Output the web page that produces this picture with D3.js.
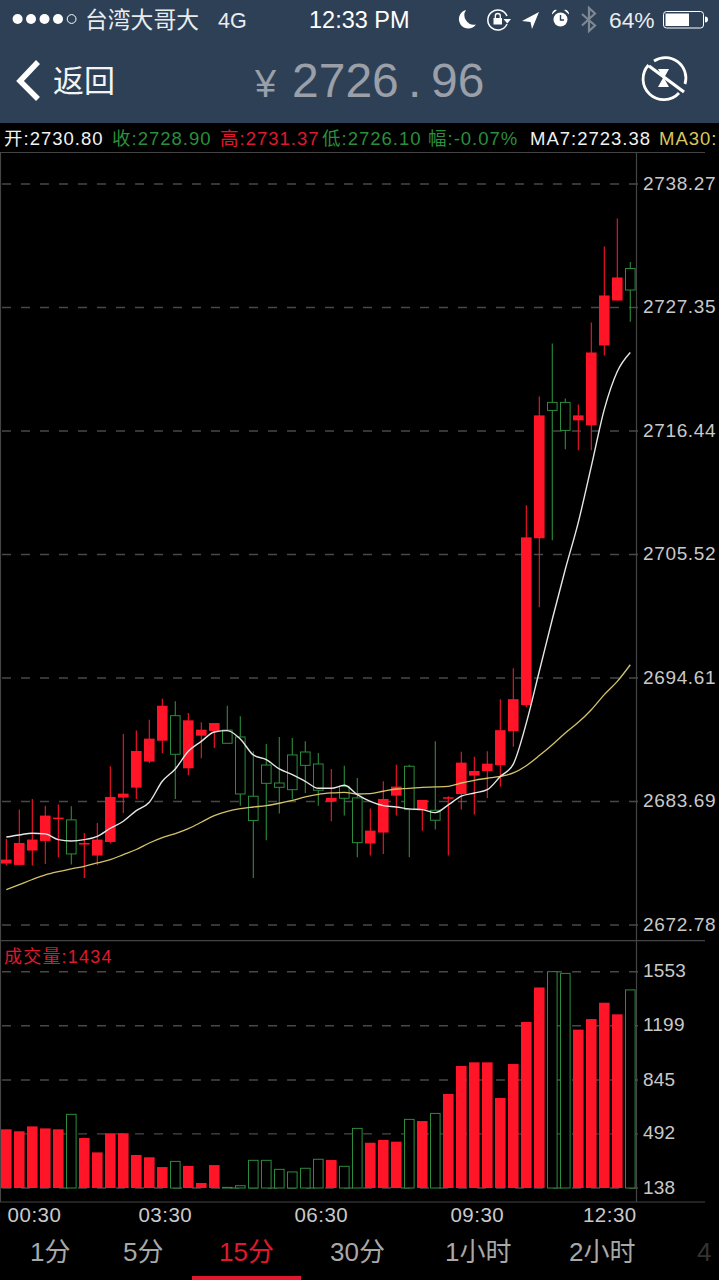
<!DOCTYPE html>
<html><head><meta charset="utf-8">
<style>html,body{margin:0;padding:0;background:#000;overflow:hidden}svg{display:block}text{font-family:"Liberation Sans","Noto Sans CJK SC",sans-serif}</style>
<script src="https://cdn.jsdelivr.net/npm/d3@7/dist/d3.min.js"></script>
</head><body><div id="c"></div>
<script>
const opens=[2678.21,2678.09,2679.36,2680.21,2682.15,2682.07,2679.89,2678.92,2680.12,2684.04,2684.92,2687.22,2689.07,2691.28,2686.63,2689.51,2689.93,2690.01,2689.40,2684.16,2686.92,2685.33,2687.81,2688.07,2687.01,2683.68,2685.04,2684.01,2679.98,2680.95,2684.21,2686.81,2682.98,2682.92,2683.95,2684.36,2685.98,2686.39,2686.91,2689.91,2692.21,2706.96,2718.97,2718.97,2717.38,2716.94,2724.00,2727.97,2730.80];
const closes=[2678.56,2680.03,2680.33,2682.45,2682.27,2679.06,2680.03,2680.33,2684.10,2684.39,2688.16,2689.25,2692.16,2687.87,2690.87,2690.04,2690.63,2688.84,2684.36,2682.01,2685.30,2684.95,2684.74,2686.89,2684.69,2684.01,2683.98,2680.06,2681.12,2683.92,2685.01,2682.98,2683.83,2682.04,2684.07,2687.13,2686.39,2687.04,2690.00,2692.74,2707.04,2717.82,2718.26,2716.49,2717.82,2723.38,2728.42,2730.01,2728.90];
const highs=[2680.39,2682.98,2683.92,2683.33,2683.42,2683.27,2680.92,2681.80,2686.81,2689.66,2689.96,2690.93,2692.78,2692.55,2691.52,2690.69,2690.63,2692.16,2691.22,2688.13,2688.78,2689.40,2689.31,2689.01,2687.98,2686.57,2686.86,2685.78,2683.07,2685.48,2686.95,2686.95,2683.83,2689.01,2684.16,2688.10,2687.66,2688.13,2692.74,2695.48,2709.87,2719.50,2724.18,2719.32,2718.79,2726.03,2732.74,2735.22,2731.37];
const lows=[2678.03,2678.09,2678.03,2678.18,2678.77,2678.12,2676.94,2678.09,2679.98,2682.68,2683.92,2687.10,2687.98,2683.92,2686.01,2687.51,2688.42,2688.84,2683.33,2676.94,2680.27,2682.63,2683.92,2684.45,2683.33,2681.95,2682.45,2678.77,2678.92,2679.06,2682.45,2678.77,2681.12,2681.21,2678.92,2682.98,2682.54,2684.01,2684.99,2688.53,2692.03,2700.86,2706.78,2714.82,2714.73,2714.73,2723.12,2727.97,2726.10];
const ma7=[2680.56,2680.74,2680.89,2680.83,2680.33,2680.21,2680.33,2680.62,2681.33,2681.95,2682.89,2683.63,2685.48,2686.57,2688.13,2689.01,2689.84,2689.96,2689.22,2687.81,2687.39,2686.57,2686.07,2685.48,2684.86,2684.86,2685.13,2684.30,2683.71,2683.33,2683.21,2683.04,2682.98,2682.71,2683.39,2684.16,2684.45,2684.74,2685.90,2687.00,2690.62,2695.21,2699.80,2704.22,2708.37,2713.31,2718.35,2721.70,2723.38];
const ma30=[2675.91,2676.35,2676.80,2677.21,2677.50,2677.74,2677.97,2678.27,2678.56,2679.00,2679.45,2680.03,2680.51,2680.86,2681.30,2681.86,2682.45,2682.83,2683.07,2683.21,2683.33,2683.54,2683.80,2684.10,2684.33,2684.45,2684.51,2684.36,2684.39,2684.60,2684.80,2684.86,2684.95,2684.98,2685.04,2685.33,2685.57,2685.75,2685.92,2686.22,2686.86,2687.75,2688.72,2689.75,2690.69,2691.81,2693.14,2694.31,2695.78];
const volumes=[522,509,541,528,522,620,465,371,496,496,354,339,275,312,282,171,288,142,153,319,319,260,243,267,326,321,280,528,434,452,441,587,576,626,753,936,960,960,727,949,1224,1450,1553,1542,1174,1243,1350,1274,1434];
const priceTicks=[2738.27,2727.35,2716.44,2705.52,2694.61,2683.69,2672.78];
const volumeTicks=[1553,1199,845,492,138];
const timeSlots=[0,12,24,36,48];
const timeLabels=["00:30","03:30","06:30","09:30","12:30"];
const periodTabs=["1分","5分","15分","30分","1小时","2小时","4"];
const activeTab="15分";

const W=719,H=1280;
const RED="#ff1428",GREEN="#2c8c3c",LABEL="#c9c9c9";
const svg=d3.select("#c").append("svg").attr("width",W).attr("height",H).attr("viewBox",`0 0 ${W} ${H}`);
svg.append("rect").attr("width",W).attr("height",H).attr("fill","#000");

const x=d3.scalePoint().domain(d3.range(closes.length)).range([6.3,630.3]);
const y=d3.scaleLinear().domain([2672.78,2738.27]).range([925,184]);
const yV=d3.scaleLinear().domain([138,1553]).range([1188,971.7]);

/* frame */
const frame=svg.append("g").attr("stroke","#444").attr("stroke-width",1.2);
[[0,152.5,705,152.5],[0,940.7,705,940.7],[0,1202,705,1202],[636.5,152.5,636.5,1202],[0.5,152.5,0.5,1202]].forEach(l=>
  frame.append("line").attr("x1",l[0]).attr("y1",l[1]).attr("x2",l[2]).attr("y2",l[3]));

/* grids */
function grid(ticks,scale){
  svg.append("g").selectAll("line").data(ticks).join("line")
    .attr("x1",2).attr("x2",641).attr("y1",d=>scale(d)).attr("y2",d=>scale(d))
    .attr("stroke","#484848").attr("stroke-width",1.4).attr("stroke-dasharray","9 10");
}
grid(priceTicks,y);grid(volumeTicks,yV);

/* axes */
function styleAxis(g,size,sp){
  g.select(".domain").remove();g.selectAll(".tick line").remove();
  g.selectAll("text").attr("fill",LABEL).attr("font-size",size).attr("letter-spacing",sp+"px");
}
svg.append("g").attr("transform","translate(643,-0.8)")
  .call(d3.axisRight(y).tickValues(priceTicks).tickFormat(d3.format(".2f")).tickSize(0).tickPadding(0))
  .call(g=>styleAxis(g,19,0.65));
svg.append("g").attr("transform","translate(643,-1)")
  .call(d3.axisRight(yV).tickValues(volumeTicks).tickFormat(d3.format("d")).tickSize(0).tickPadding(0))
  .call(g=>styleAxis(g,19,0.2));
const xAxis=svg.append("g").attr("transform","translate(0,1205)")
  .call(d3.axisBottom(x).tickValues(timeSlots).tickFormat((d,i)=>timeLabels[i]).tickSize(0).tickPadding(0))
  .call(g=>styleAxis(g,20.5,0.5));
xAxis.selectAll("text").attr("dy","0.85em").attr("dx",(d,i)=>i===0?"27.7":i===4?"-21":"2.5");

/* candles */
const up=i=>closes[i]>=opens[i];
const cols=i=>up(i)?RED:GREEN;
const idx=d3.range(closes.length);
const BW=10.6;
const cg=svg.append("g");
cg.selectAll("line").data(idx).join("line")
  .attr("x1",i=>x(i)).attr("x2",i=>x(i)).attr("y1",i=>y(highs[i])).attr("y2",i=>y(lows[i]))
  .attr("stroke",cols).attr("stroke-width",1.1);
cg.selectAll("rect").data(idx).join("rect")
  .attr("x",i=>x(i)-(up(i)?BW/2:BW/2-0.5))
  .attr("width",i=>up(i)?BW:BW-1)
  .attr("y",i=>y(Math.max(opens[i],closes[i])))
  .attr("height",i=>Math.max(1.5,Math.abs(y(opens[i])-y(closes[i]))))
  .attr("fill",i=>up(i)?RED:"#000").attr("stroke",i=>up(i)?"none":GREEN).attr("stroke-width",1);

/* moving averages */
const line=d3.line().x((d,i)=>x(i)).y(d=>y(d)).curve(d3.curveMonotoneX);
svg.append("path").datum(ma30).attr("d",line).attr("fill","none").attr("stroke","#d2c36a").attr("stroke-width",1.3);
svg.append("path").datum(ma7).attr("d",line).attr("fill","none").attr("stroke","#e6e6e6").attr("stroke-width",1.4);

/* volume */
svg.append("g").selectAll("rect").data(idx).join("rect")
  .attr("x",i=>x(i)-(up(i)?BW/2:BW/2-0.5))
  .attr("width",i=>up(i)?BW:BW-1)
  .attr("y",i=>yV(volumes[i])).attr("height",i=>yV(138)-yV(volumes[i]))
  .attr("fill",i=>up(i)?RED:"#000").attr("stroke",i=>up(i)?"none":GREEN).attr("stroke-width",1);
svg.append("text").attr("x",4).attr("y",963).attr("font-size",18).attr("letter-spacing","1.2px").attr("fill","#e0182d").text("成交量:"+volumes[volumes.length-1]);

/* header */
svg.append("rect").attr("width",W).attr("height",123).attr("fill","#2e4055");
const hdr=svg.append("g");
[17.6,31,44.5,58].forEach(c=>hdr.append("circle").attr("cx",c).attr("cy",19).attr("r",5).attr("fill","#fff"));
hdr.append("circle").attr("cx",71.6).attr("cy",19).attr("r",4.4).attr("fill","none").attr("stroke","#fff").attr("stroke-width",1);
const t=(s,xx,yy,fs,fill)=>hdr.append("text").attr("x",xx).attr("y",yy).attr("font-size",fs).attr("fill",fill).text(s);
t("台湾大哥大",85,28,22.8,"#e8ecef");
t("4G",218,28,21.5,"#e8ecef");
t("12:33 PM",309,28,23.5,"#fff");
t("64%",609,28,22.8,"#e8ecef");
/* moon */
hdr.append("path").attr("d","M466 10 a9.4 9.4 0 1 0 10 14.5 a9.5 9.5 0 0 1 -10 -14.5z").attr("fill","#fff");
/* rotation lock */
hdr.append("path").attr("d","M507 16 A10 10 0 1 0 507 24").attr("fill","none").attr("stroke","#fff").attr("stroke-width",1.5);
hdr.append("rect").attr("x",493.5).attr("y",18).attr("width",8.5).attr("height",6.5).attr("fill","#fff");
hdr.append("path").attr("d","M495.3 18 v-2 a2.5 2.5 0 0 1 5 0 v2").attr("fill","none").attr("stroke","#fff").attr("stroke-width",1.3);
hdr.append("path").attr("d","M503.5 19 h7.5 l-3.7 4.5z").attr("fill","#fff");
/* location */
hdr.append("path").attr("d","M539 12 L522 21 L530.5 22 L532 29z").attr("fill","#fff");
/* alarm */
hdr.append("circle").attr("cx",560.5).attr("cy",19.5).attr("r",7).attr("fill","#fff");
hdr.append("path").attr("d","M560.5 15 v5 h3.5").attr("fill","none").attr("stroke","#2e4055").attr("stroke-width",1.4);
hdr.append("path").attr("d","M552 14.5 a4 4 0 0 1 5 -4.5zM569 14.5 a4 4 0 0 0 -5 -4.5z").attr("fill","#fff");
/* bluetooth */
hdr.append("path").attr("d","M582 14 L595 25.5 L589 31 V8 L595 13.5 L582 25.5").attr("fill","none").attr("stroke","#7d8894").attr("stroke-width",2.2);
/* battery */
hdr.append("rect").attr("x",663.5).attr("y",11.5).attr("width",40).attr("height",16.5).attr("rx",3).attr("fill","none").attr("stroke","#fff").attr("stroke-width",1);
hdr.append("rect").attr("x",665.5).attr("y",13.5).attr("width",23.5).attr("height",12.5).attr("fill","#fff");
hdr.append("path").attr("d","M705 16.5 a3 3 0 0 1 0 6z").attr("fill","#fff");
/* nav */
hdr.append("path").attr("d","M38 62 L20 81 L38 99").attr("fill","none").attr("stroke","#fff").attr("stroke-width",5.5);
t("返回",53,92,31,"#f2f4f6");
const price=hdr.append("text").attr("y",97).attr("font-size",48).attr("fill","#9a9fa8");
price.append("tspan").attr("x",255).attr("font-size",38).text("¥");
price.append("tspan").attr("x",292).text("2726");
price.append("tspan").attr("x",408).text(".");
price.append("tspan").attr("x",431).text("96");
/* right icon */
hdr.append("path").attr("d","M654 61 A20.5 20.5 0 0 1 685 84").attr("fill","none").attr("stroke","#fff").attr("stroke-width",2.8);
hdr.append("path").attr("d","M648.5 65 A20.5 20.5 0 0 0 679 93").attr("fill","none").attr("stroke","#fff").attr("stroke-width",2.8);
hdr.append("path").attr("d","M649 66 L684 92").attr("stroke","#fff").attr("stroke-width",3.2).attr("fill","none");
hdr.append("path").attr("d","M658 69 H669 L664 78 L669 87 H658 L663 78z").attr("fill","#fff");

/* info row */
const lastI=closes.length-1;
const pct="-0.07%";
const info=[
 ["开:"+opens[lastI].toFixed(2),4,"#f2f2f2"],
 ["收:"+closes[lastI].toFixed(2),112,"#2a8f3c"],
 ["高:"+highs[lastI].toFixed(2),220,"#e0182d"],
 ["低:"+lows[lastI].toFixed(2),322,"#2a8f3c"],
 ["幅:"+pct,428,"#2a8f3c"],
 ["MA7:"+ma7[lastI].toFixed(2),530,"#f2f2f2"],
 ["MA30:",659,"#d8c85a"]];
svg.append("g").selectAll("text").data(info).join("text")
  .attr("x",d=>d[1]).attr("y",145).attr("font-size",18.5).attr("letter-spacing","1px").attr("fill",d=>d[2]).text(d=>d[0]);

/* tabs */
const tabX=[30,123,219,330,445,569,697];
svg.append("g").selectAll("text").data(periodTabs).join("text")
  .attr("x",(d,i)=>tabX[i]).attr("y",1261).attr("font-size",26)
  .attr("fill",d=>d===activeTab?"#e0182d":d==="4"?"#333":"#a8a8a8").text(d=>d);
svg.append("rect").attr("x",192).attr("y",1276).attr("width",109).attr("height",4).attr("fill","#e0182d");
</script></body></html>
